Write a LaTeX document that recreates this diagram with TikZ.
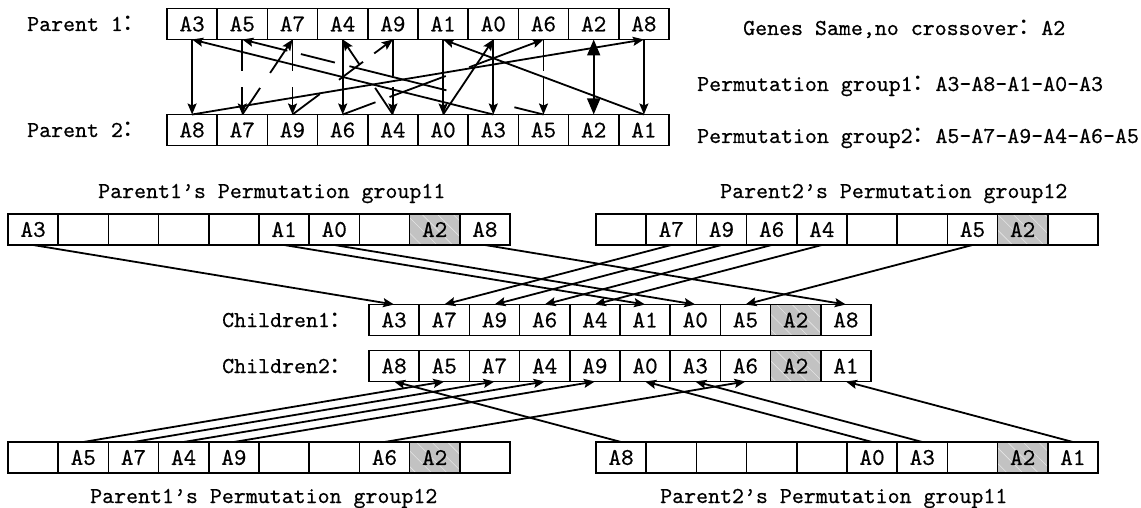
\documentclass[tikz,border=0pt]{standalone}
\usepackage{fontspec}
\setmonofont{lmmono10-regular.otf}[RawFeature={embolden=0.5}]
\newfontfamily\cjk{Noto Sans CJK SC}
\usetikzlibrary{arrows.meta,patterns.meta}
\newcommand\mkrow[5]{%
  \foreach \t [count=\i] in {#5}{%
    \ifnum\i=9 \ifnum#4=1
      \node[graycell] (#1-\i) at ({#2+50.2*(\i-0.5)},#3) {\t};
    \else
      \node[cell] (#1-\i) at ({#2+50.2*(\i-0.5)},#3) {\t};
    \fi\else
      \node[cell] (#1-\i) at ({#2+50.2*(\i-0.5)},#3) {\t};
    \fi
  }}
\begin{document}
\begin{tikzpicture}[x=1pt,y=-1pt,
  txt/.style={font=\fontsize{22.8}{27}\selectfont\ttfamily, inner sep=0pt},
  cell/.style={draw, line width=1.6pt, minimum width=50.2pt, minimum height=31pt,
    inner sep=0pt, outer sep=0pt, font=\fontsize{24}{27}\selectfont\ttfamily},
  graycell/.style={cell, preaction={fill=black!24},
    pattern={Lines[angle=-45,distance=11pt,line width=0.6pt]}, pattern color=black!10},
  arr/.style={line width=1.8pt, -{Stealth[length=11pt,width=9pt,inset=2pt]}},
  bigarr/.style={line width=1.8pt, {Triangle[length=16pt,width=13pt]}-{Triangle[length=16pt,width=13pt]}},
]
\useasboundingbox (0,0) rectangle (1141,508);

% ---------- top rows ----------
\mkrow{p1}{167}{24}{0}{A3,A5,A7,A4,A9,A1,A0,A6,A2,A8}
\mkrow{p2}{167}{130}{0}{A8,A7,A9,A6,A4,A0,A3,A5,A2,A1}
\node[txt, anchor=base west] (lp1) at (27,31) {Parent 1{\cjk ：}};
\node[txt, anchor=base west] (lp2) at (27,137) {Parent 2{\cjk ：}};
\node[txt, anchor=base west] (r1) at (743,35) {Genes Same,no crossover{\cjk ：}A2};
\node[txt, anchor=base west] (r2) at (697,91) {Permutation group1{\cjk ：}A3-A8-A1-A0-A3};
\node[txt, anchor=base west] (r3) at (697,143) {Permutation group2{\cjk ：}A5-A7-A9-A4-A6-A5};

% verticals
\draw[arr] (p1-1.south) -- (p2-1.north);
\draw[arr, dash pattern=on 32pt off 16pt on 300pt] (p1-2.south) -- (p2-2.north);
\draw[arr, dash pattern=on 32pt off 16pt on 300pt] (p1-3.south) -- (p2-3.north);
\draw[arr] (p1-4.south) -- (p2-4.north);
\draw[arr, dash pattern=on 37pt off 11pt on 300pt] (p1-5.south) -- (p2-5.north);
\draw[arr] (p1-6.south) -- (p2-6.north);
\draw[arr] (p1-7.south) -- (p2-7.north);
\draw[arr, dash pattern=on 32pt off 7pt on 300pt] (p1-8.south) -- (p2-8.north);
\draw[bigarr] (p1-9.south) -- (p2-9.north);
\draw[arr] (p1-10.south) -- (p2-10.north);
% diagonals back to parent 1
\draw[arr] (p2-1.north) -- (p1-10.south);
\draw[arr, dash pattern=on 32pt off 18pt on 300pt] (p2-2.north) -- (p1-3.south);
\draw[arr, dash pattern=on 34pt off 24pt on 30pt off 14pt on 300pt] (p2-3.north) -- (p1-5.south);
\draw[arr, dash pattern=on 35pt off 15pt on 60pt off 25pt on 300pt] (p2-4.north) -- (p1-8.south);
\draw[arr, dash pattern=on 32pt off 28pt on 300pt] (p2-5.north) -- (p1-4.south);
\draw[arr] (p2-6.north) -- (p1-7.south);
\draw[arr] (p2-7.north) -- (p1-1.south);
\draw[arr, dash pattern=on 30pt off 70pt on 100pt off 15pt on 35pt off 14pt on 300pt] (p2-8.north) -- (p1-2.south);
\draw[arr] (p2-10.north) -- (p1-6.south);

% ---------- middle rows ----------
\node[txt, anchor=base west] (t11) at (98,198) {Parent1’s Permutation group11};
\node[txt, anchor=base west] (t12) at (720,198) {Parent2’s Permutation group12};
\mkrow{g}{8}{229.5}{1}{A3,{},{},{},{},A1,A0,{},A2,A8}
\mkrow{h}{596}{229.5}{1}{{},A7,A9,A6,A4,{},{},A5,A2,{}}

\node[txt, anchor=base west] (lc1) at (222,327) {Children1{\cjk ：}};
\node[txt, anchor=base west] (lc2) at (222,373) {Children2{\cjk ：}};
\mkrow{c}{369}{320}{1}{A3,A7,A9,A6,A4,A1,A0,A5,A2,A8}
\mkrow{d}{369}{366}{1}{A8,A5,A7,A4,A9,A0,A3,A6,A2,A1}

\draw[arr] (g-1.south) -- (c-1.north);
\draw[arr] (g-6.south) -- (c-6.north);
\draw[arr] (g-7.south) -- (c-7.north);
\draw[arr] (g-10.south) -- (c-10.north);
\draw[arr] (h-2.south) -- (c-2.north);
\draw[arr] (h-3.south) -- (c-3.north);
\draw[arr] (h-4.south) -- (c-4.north);
\draw[arr] (h-5.south) -- (c-5.north);
\draw[arr] (h-8.south) -- (c-8.north);

% ---------- bottom rows ----------
\mkrow{b}{8}{457.5}{1}{{},A5,A7,A4,A9,{},{},A6,A2,{}}
\mkrow{e}{596}{457.5}{1}{A8,{},{},{},{},A0,A3,{},A2,A1}
\node[txt, anchor=base west] (t21) at (90,503) {Parent1’s Permutation group12};
\node[txt, anchor=base west] (t22) at (660,503) {Parent2’s Permutation group11};

\draw[arr] (b-2.north) -- (d-2.south);
\draw[arr] (b-3.north) -- (d-3.south);
\draw[arr] (b-4.north) -- (d-4.south);
\draw[arr] (b-5.north) -- (d-5.south);
\draw[arr] (b-8.north) -- (d-8.south);
\draw[arr] (e-1.north) -- (d-1.south);
\draw[arr] (e-6.north) -- (d-6.south);
\draw[arr] (e-7.north) -- (d-7.south);
\draw[arr] (e-10.north) -- (d-10.south);
\end{tikzpicture}
\end{document}
